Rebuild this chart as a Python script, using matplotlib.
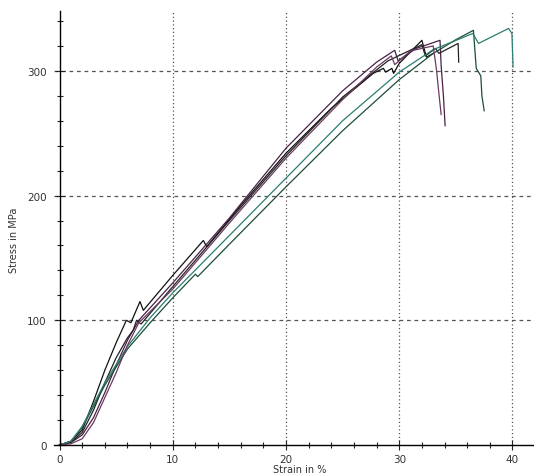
import matplotlib
matplotlib.use("Agg")
import matplotlib.pyplot as plt
from matplotlib.ticker import MultipleLocator

# strain in %, stress in MPa
strain_1 = [0, 1, 2, 3, 4, 5, 5.9, 6.3, 7.1, 7.4, 10, 12.7, 13.0, 16, 20, 24, 27.7,
            28.6, 28.8, 29.35, 29.5, 30, 32, 32.4, 33]
stress_1 = [0, 3, 12, 35, 60, 82, 100, 98, 115, 108, 136, 164, 159, 192, 234, 270, 298,
            302, 299, 302, 298, 306, 324.5, 311, 314]

strain_2 = [0, 1, 2, 3, 4, 5, 6, 7, 10, 15, 20, 25, 28, 29.6, 29.9, 30.5, 31.5, 33.6,
            33.7, 33.9, 34.05]
stress_2 = [0, 2, 8, 22, 42, 64, 84, 100, 130, 182, 238, 284, 307, 316.5, 308, 312, 318,
            324.5, 304, 280, 256]

strain_3 = [0, 1, 2, 3, 4, 5, 6, 6.5, 6.8, 7.2, 10, 15, 20, 25, 29, 32, 32.3, 33.2,
            33.5, 35.2, 35.25]
stress_3 = [0, 2, 10, 28, 50, 70, 86, 92, 100, 97, 127, 180, 232, 279, 308, 321, 312,
            318, 314, 322, 307]

strain_4 = [0, 1, 2, 4, 6, 8, 10, 12, 12.2, 15, 20, 25, 30, 33, 35, 36.55, 36.8, 37.2,
            37.3, 37.5]
stress_4 = [0, 3, 14, 48, 77, 98, 118, 137, 135, 161, 207, 252, 293, 314, 325, 332.5,
            302, 296, 280, 268]

strain_5 = [0, 1, 2, 4, 6, 8, 10, 15, 20, 25, 30, 33, 36.5, 37, 39.65, 39.95, 40.05]
stress_5 = [0, 3, 15, 50, 79, 102, 122, 168, 214, 260, 299, 317, 330, 322, 334, 330, 303]

strain_6 = [0, 1, 2, 3, 4, 5, 6, 7, 10, 15, 20, 25, 28, 29.3, 29.6, 31, 33, 33.3, 33.5, 33.7]
stress_6 = [0, 1, 5, 18, 38, 58, 80, 98, 125, 178, 230, 277, 303, 312, 305, 316, 320,
            300, 282, 265]

curves = [
    (strain_1, stress_1, "#111111"),
    (strain_2, stress_2, "#4a2048"),
    (strain_3, stress_3, "#222222"),
    (strain_4, stress_4, "#1d4d36"),
    (strain_5, stress_5, "#2a7d70"),
    (strain_6, stress_6, "#6a3a60"),
]

x_major = [0, 10, 20, 30, 40]
y_major = [0, 100, 200, 300]

fig = plt.figure(figsize=(5.34, 4.77), dpi=100)
ax = fig.add_axes([54 / 534, 31 / 477, 480 / 534, 434 / 477])

for strain, stress, color in curves:
    ax.plot(strain, stress, color=color, linewidth=0.9)

ax.set_xlim(-0.49, 41.9)
ax.set_ylim(0, 348)

for side in ["top", "right"]:
    ax.spines[side].set_visible(False)
ax.spines["left"].set_position(("data", 0))
ax.spines["left"].set_linewidth(1.0)
ax.spines["bottom"].set_linewidth(1.0)

ax.set_xticks(x_major)
ax.set_yticks(y_major)
ax.xaxis.set_minor_locator(MultipleLocator(2))
ax.yaxis.set_minor_locator(MultipleLocator(20))
ax.tick_params(which="major", direction="inout", length=6.5, width=0.8, colors="#222222",
               labelsize=7.5, labelcolor="#333333")
ax.tick_params(which="minor", direction="inout", length=5, width=0.8, colors="#222222")
ax.tick_params(axis="y", pad=6)

for x in x_major[1:]:
    ax.axvline(x, color="#555555", linestyle=(0, (1, 2)), linewidth=0.9, zorder=0)
for y in y_major[1:]:
    ax.axhline(y, color="#555555", linestyle=(0, (3, 3)), linewidth=0.9, zorder=0)

fig.text(300 / 534, 1 - 470 / 477, "Strain in %", ha="center", va="center",
         fontsize=7, color="#333333")
fig.text(14 / 534, 1 - 240 / 477, "Stress in MPa", ha="center", va="center",
         rotation=90, fontsize=7, color="#333333")

fig.savefig("out.png", dpi=100)
